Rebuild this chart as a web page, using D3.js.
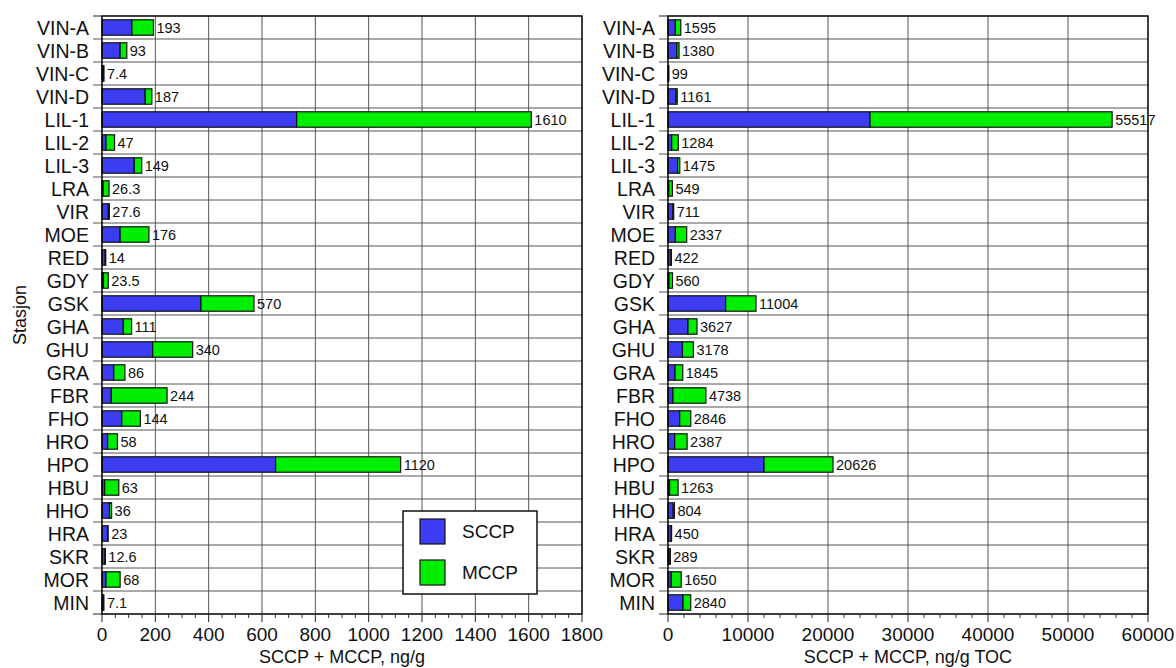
<!DOCTYPE html>
<html>
<head>
<meta charset="utf-8">
<script src="https://cdn.jsdelivr.net/npm/d3@7"></script>
<style>
  body { margin: 0; background: #fff; }
  svg { display: block; font-family: "Liberation Sans", Arial, Helvetica, sans-serif; }
</style>
</head>
<body>
<svg id="chart" width="1176" height="668"></svg>
<script>
// ---- data ----
const stations = ["VIN-A","VIN-B","VIN-C","VIN-D","LIL-1","LIL-2","LIL-3","LRA","VIR","MOE","RED","GDY","GSK","GHA","GHU","GRA","FBR","FHO","HRO","HPO","HBU","HHO","HRA","SKR","MOR","MIN"];

// ng/g dry weight
const sccpDw = [112, 68, 5.4, 162, 730, 15, 121, 4.3, 24, 68, 12, 5.5, 371, 80, 190, 44, 35, 74, 21, 651, 10, 28, 21, 11, 15, 5.1];
const mccpDw = [81, 25, 2.0, 25, 880, 32, 28, 22, 3.6, 108, 2, 18, 199, 31, 150, 42, 209, 70, 37, 469, 53, 8, 2, 1.6, 53, 2.0];
const labelsDw = ["193","93","7.4","187","1610","47","149","26.3","27.6","176","14","23.5","570","111","340","86","244","144","58","1120","63","36","23","12.6","68","7.1"];

// ng/g TOC
const sccpToc = [920, 1100, 70, 1010, 25250, 460, 1200, 100, 620, 920, 380, 130, 7200, 2500, 1800, 880, 620, 1460, 830, 12000, 200, 650, 410, 260, 400, 1880];
const mccpToc = [675, 280, 29, 151, 30267, 824, 275, 449, 91, 1417, 42, 430, 3804, 1127, 1378, 965, 4118, 1386, 1557, 8626, 1063, 154, 40, 29, 1250, 960];
const labelsToc = ["1595","1380","99","1161","55517","1284","1475","549","711","2337","422","560","11004","3627","3178","1845","4738","2846","2387","20626","1263","804","450","289","1650","2840"];

const ticksDw = [0, 200, 400, 600, 800, 1000, 1200, 1400, 1600, 1800];
const ticksToc = [0, 10000, 20000, 30000, 40000, 50000, 60000];
const seriesNames = ["SCCP", "MCCP"];
const seriesColors = ["#3c3cf2", "#00ee00"];

// ---- drawing ----
const svg = d3.select("#chart");
const plotTop = 16, plotBottom = 614;

const y = d3.scaleBand().domain(stations).range([plotTop, plotBottom])
  .paddingInner(0.33).paddingOuter(0.165);

function panel(opts) {
  const { x0, x1, max, ticks, minorStep, sccp, mccp, labels, title } = opts;
  const x = d3.scaleLinear().domain([0, max]).range([x0, x1]);
  const g = svg.append("g");
  const step = y.step();
  const rowTop = d => y(d) - (step - y.bandwidth()) / 2;

  // vertical gridlines
  g.selectAll("line.vg").data(ticks.slice(1, -1)).join("line")
    .attr("x1", d => x(d)).attr("x2", d => x(d))
    .attr("y1", plotTop).attr("y2", plotBottom)
    .attr("stroke", "#555").attr("stroke-width", 1);

  // horizontal row lines (extending left as tick marks)
  const bounds = stations.map(rowTop).concat([plotBottom]);
  g.selectAll("line.hg").data(bounds.slice(1, -1)).join("line")
    .attr("x1", x0 - 9).attr("x2", x1)
    .attr("y1", d => d).attr("y2", d => d)
    .attr("stroke", "#555").attr("stroke-width", 1);
  g.selectAll("line.ht").data([plotTop, plotBottom]).join("line")
    .attr("x1", x0 - 9).attr("x2", x0)
    .attr("y1", d => d).attr("y2", d => d)
    .attr("stroke", "#222").attr("stroke-width", 1);

  // bars
  const rows = stations.map((s, i) => ({ s, a: sccp[i], b: mccp[i], lab: labels[i] }));
  const bg = g.append("g");
  bg.selectAll("rect.s").data(rows).join("rect")
    .attr("x", x(0)).attr("y", d => y(d.s))
    .attr("width", d => x(d.a) - x(0)).attr("height", y.bandwidth())
    .attr("fill", seriesColors[0]).attr("stroke", "#111").attr("stroke-width", 1.2);
  bg.selectAll("rect.m").data(rows).join("rect")
    .attr("x", d => x(d.a)).attr("y", d => y(d.s))
    .attr("width", d => x(d.a + d.b) - x(d.a)).attr("height", y.bandwidth())
    .attr("fill", seriesColors[1]).attr("stroke", "#111").attr("stroke-width", 1.2);

  // value labels
  g.selectAll("text.v").data(rows).join("text")
    .attr("x", d => x(d.a + d.b) + 3)
    .attr("y", d => y(d.s) + y.bandwidth() / 2)
    .attr("dy", "0.36em")
    .attr("font-size", 14.5).attr("fill", "#111")
    .text(d => d.lab);

  // frame
  g.append("rect").attr("x", x0).attr("y", plotTop)
    .attr("width", x1 - x0).attr("height", plotBottom - plotTop)
    .attr("fill", "none").attr("stroke", "#000").attr("stroke-width", 1.5);

  // category labels
  g.selectAll("text.c").data(stations).join("text")
    .attr("x", x0 - 13).attr("y", d => y(d) + y.bandwidth() / 2)
    .attr("dy", "0.36em").attr("text-anchor", "end")
    .attr("font-size", 19.5).attr("fill", "#111")
    .text(d => d);

  // x ticks
  const minor = d3.range(0, max + 1e-9, minorStep).filter(v => !ticks.includes(v));
  g.selectAll("line.mi").data(minor).join("line")
    .attr("x1", d => x(d)).attr("x2", d => x(d))
    .attr("y1", plotBottom).attr("y2", plotBottom + 4)
    .attr("stroke", "#333").attr("stroke-width", 1);
  g.selectAll("line.ma").data(ticks).join("line")
    .attr("x1", d => x(d)).attr("x2", d => x(d))
    .attr("y1", plotBottom).attr("y2", plotBottom + 8)
    .attr("stroke", "#222").attr("stroke-width", 1);
  g.selectAll("text.t").data(ticks).join("text")
    .attr("x", d => x(d)).attr("y", 641)
    .attr("text-anchor", "middle").attr("font-size", 19).attr("fill", "#111")
    .text(d => d);

  g.append("text").attr("x", (x0 + x1) / 2).attr("y", 663)
    .attr("text-anchor", "middle").attr("font-size", 18).attr("fill", "#111")
    .text(title);
  return x;
}

panel({ x0: 102, x1: 582, max: 1800, ticks: ticksDw, minorStep: 50,
  sccp: sccpDw, mccp: mccpDw, labels: labelsDw, title: "SCCP + MCCP, ng/g" });
panel({ x0: 668, x1: 1148, max: 60000, ticks: ticksToc, minorStep: 2000,
  sccp: sccpToc, mccp: mccpToc, labels: labelsToc, title: "SCCP + MCCP, ng/g TOC" });

// y axis title
svg.append("text").attr("transform", "translate(26,315) rotate(-90)")
  .attr("text-anchor", "middle").attr("font-size", 18).attr("fill", "#111")
  .text("Stasjon");

// legend
const lg = svg.append("g");
lg.append("rect").attr("x", 403).attr("y", 511).attr("width", 134).attr("height", 83)
  .attr("fill", "#fff").attr("stroke", "#111").attr("stroke-width", 1.5);
seriesNames.forEach((n, i) => {
  lg.append("rect").attr("x", 420).attr("y", 519 + i * 41).attr("width", 25).attr("height", 25)
    .attr("fill", seriesColors[i]).attr("stroke", "#111").attr("stroke-width", 1.2);
  lg.append("text").attr("x", 462).attr("y", 531.5 + i * 41).attr("dy", "0.36em")
    .attr("font-size", 19).attr("fill", "#111").text(n);
});
</script>
</body>
</html>
